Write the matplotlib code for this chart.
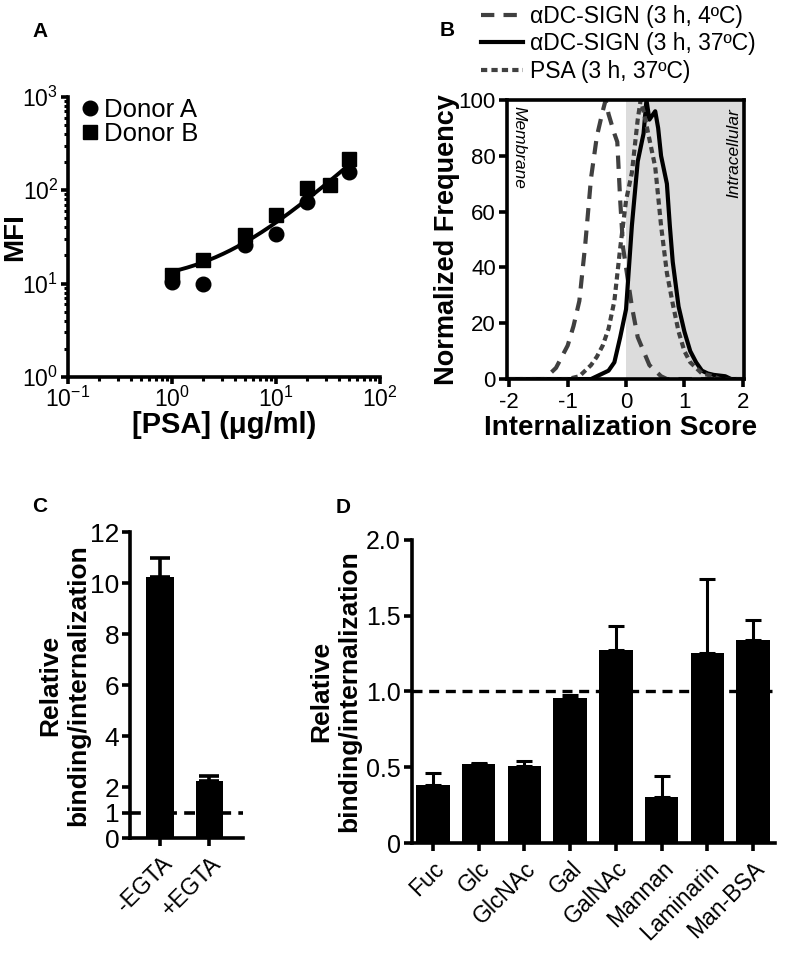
import numpy as np
import matplotlib
matplotlib.use("Agg")
import matplotlib.pyplot as plt
from matplotlib.ticker import LogLocator, NullFormatter

plt.rcParams['font.family'] = ['Liberation Sans', 'DejaVu Sans']
plt.rcParams['mathtext.fontset'] = 'custom'
plt.rcParams['mathtext.rm'] = 'Liberation Sans'
plt.rcParams['mathtext.default'] = 'regular'

# Panel A data
psa_a = [1, 2, 5, 10, 20, 50]
mfi_a = [10.5, 10, 26, 34, 75, 158]
psa_b = [1, 2, 5, 10, 20, 33, 50]
mfi_b = [12.5, 18, 33, 54, 106, 113, 215]

# Panel B data (histograms)
x_4c = [-2.0, -1.4, -1.3, -1.2, -1.1, -1.0, -0.9, -0.8, -0.7, -0.6, -0.5, -0.4, -0.35,
        -0.3, -0.2, -0.15, -0.1, -0.05, 0.0, 0.1, 0.2, 0.3, 0.4, 0.5, 0.6, 0.7, 2.0]
y_4c = [0, 0, 2, 4, 8, 12, 19, 28, 48, 72, 87, 96, 100,
        95, 88, 85, 64, 47, 40, 26, 15, 10, 5, 3, 1, 0, 0]
x_37c = [-2.0, -0.6, -0.5, -0.4, -0.3, -0.2, -0.1, 0.0, 0.05, 0.1, 0.2, 0.3, 0.35, 0.4,
         0.5, 0.55, 0.6, 0.7, 0.75, 0.8, 0.9, 1.0, 1.1, 1.2, 1.3, 1.4, 1.5, 1.7, 1.8, 2.0]
y_37c = [0, 0, 1, 2, 3, 6, 15, 25, 40, 55, 78, 88, 100, 93,
         96, 90, 80, 70, 55, 42, 26, 17, 10, 6, 3, 2, 1.5, 1, 0, 0]
x_psa = [-2.0, -1.0, -0.8, -0.7, -0.6, -0.5, -0.4, -0.3, -0.2, -0.1, 0.0, 0.1, 0.2, 0.25,
         0.3, 0.4, 0.5, 0.6, 0.7, 0.8, 0.9, 1.0, 1.1, 1.2, 1.3, 1.4, 1.5, 1.6, 2.0]
y_psa = [0, 0, 1, 3, 5, 8, 12, 18, 28, 47, 64, 74, 93, 100,
         96, 86, 76, 55, 38, 27, 17, 10, 6, 4, 2, 1.5, 1, 0, 0]

# Panel C data
egta_labels = ['-EGTA', '+EGTA']
egta_vals = [10.25, 2.25]
egta_err = [0.75, 0.2]

# Panel D data
sugar_labels = ['Fuc', 'Glc', 'GlcNAc', 'Gal', 'GalNAc', 'Mannan', 'Laminarin', 'Man-BSA']
sugar_vals = [0.385, 0.524, 0.507, 0.954, 1.277, 0.304, 1.255, 1.343]
sugar_err = [0.075, 0.006, 0.033, 0.022, 0.153, 0.136, 0.485, 0.127]

fig = plt.figure(figsize=(7.86, 9.56), dpi=100)
SPW = 2.6

def style_axes(ax, box=False):
    for s in ['left', 'bottom', 'top', 'right']:
        ax.spines[s].set_linewidth(SPW)
    if not box:
        ax.spines['top'].set_visible(False)
        ax.spines['right'].set_visible(False)
    ax.tick_params(width=SPW, length=6, direction='out', pad=2)

# ---------- A ----------
axA = fig.add_axes([0.0865, 0.6057, 0.397, 0.293])
axA.set_xscale('log')
axA.set_yscale('log')
axA.set_xlim(0.1, 100)
axA.set_ylim(1, 1000)
axA.plot(psa_a, mfi_a, 'o', color='black', markersize=10.5, label='Donor A', clip_on=False)
axA.plot(psa_b, mfi_b, 's', color='black', markersize=10, label='Donor B', clip_on=False)
xall = np.array(psa_a + psa_b, dtype=float)
yall = np.array(mfi_a + mfi_b, dtype=float)
coef = np.polyfit(xall, yall, 1)
xf = np.linspace(0.9, 50, 200)
axA.plot(xf, np.polyval(coef, xf), '-', color='black', linewidth=2.8)
style_axes(axA)
axA.xaxis.set_minor_locator(LogLocator(base=10, subs=np.arange(2, 10)))
axA.yaxis.set_minor_locator(LogLocator(base=10, subs=np.arange(2, 10)))
axA.xaxis.set_minor_formatter(NullFormatter())
axA.yaxis.set_minor_formatter(NullFormatter())
axA.tick_params(which='minor', width=2.2, length=3)
axA.tick_params(which='major', labelsize=16.5, length=5)
axA.set_ylabel('MFI', fontsize=20, fontweight='bold')
axA.yaxis.set_label_coords(-0.128, 0.5)
axA.set_xlabel('[PSA] (μg/ml)', fontsize=21, fontweight='bold')
axA.xaxis.set_label_coords(0.5, -0.122)
axA.legend(loc='upper left', bbox_to_anchor=(0.029, 0.995), frameon=False, fontsize=18.5,
           handletextpad=0.05, borderaxespad=0, labelspacing=0.0, handlelength=1.0, borderpad=0)
fig.text(0.0505, 0.967, 'A', fontsize=15, fontweight='bold', ha='center', va='center')

# ---------- B ----------
axB = fig.add_axes([0.645, 0.6035, 0.3015, 0.2918])
axB.set_xlim(-2.04, 2.02)
axB.set_ylim(0, 100)
axB.axvspan(0, 2.02, color='#dcdcdc', zorder=0, linewidth=0)
gray = '#404040'
l1, = axB.plot(x_4c, y_4c, color=gray, linewidth=3, dashes=(3.2, 2.2), label='αDC-SIGN (3 h, 4ºC)')
l2, = axB.plot(x_37c, y_37c, color='black', linewidth=3, label='αDC-SIGN (3 h, 37ºC)')
l3, = axB.plot(x_psa, y_psa, color=gray, linewidth=3, dashes=(1.5, 1.0), label='PSA (3 h, 37ºC)')
style_axes(axB, box=True)
axB.set_xticks([-2, -1, 0, 1, 2])
axB.set_xticklabels(['-2', '-1', '0', '1', '2'])
axB.set_yticks([0, 20, 40, 60, 80, 100])
axB.tick_params(labelsize=16, length=6)
axB.tick_params(axis='x', pad=3)
axB.set_ylabel('Normalized Frequency', fontsize=19.5, fontweight='bold')
axB.yaxis.set_label_coords(-0.198, 0.5)
axB.set_xlabel('Internalization Score', fontsize=20, fontweight='bold')
axB.xaxis.set_label_coords(0.48, -0.128)
axB.text(-1.97, 98, 'Membrane', rotation=270, style='italic', fontsize=12.5, ha='left', va='top')
axB.text(1.97, 97, 'Intracellular', rotation=90, style='italic', fontsize=12.5, ha='right', va='top')
fig.legend(handles=[l1, l2, l3], loc='upper left', bbox_to_anchor=(0.591, 1.012), frameon=False,
           fontsize=16.5, handlelength=1.87, handletextpad=0.3, labelspacing=0.2, borderpad=0.2)
fig.text(0.569, 0.968, 'B', fontsize=15, fontweight='bold', ha='center', va='center')

# ---------- C ----------
axC = fig.add_axes([0.166, 0.1234, 0.143, 0.320])
xc = np.arange(len(egta_labels))
axC.bar(xc, egta_vals, width=0.55, color='black', zorder=2)
axC.errorbar(xc, egta_vals, yerr=[np.zeros(len(xc)), egta_err], fmt='none', ecolor='black',
             elinewidth=2.6, capsize=7, capthick=2.6, zorder=2)
axC.axhline(1, color='black', linestyle=(0, (3, 2)), linewidth=2.6, zorder=3)
axC.set_xlim(-0.6, 1.68)
axC.set_ylim(0, 12)
axC.set_yticks([0, 1, 2, 4, 6, 8, 10, 12])
axC.set_xticks(xc)
axC.set_xticklabels(egta_labels, rotation=45, ha='right', rotation_mode='anchor')
style_axes(axC)
axC.tick_params(axis='y', labelsize=19)
axC.tick_params(axis='x', labelsize=16.5, pad=4)
axC.set_ylabel('Relative\nbinding/internalization', fontsize=19, fontweight='bold')
axC.yaxis.set_label_coords(-0.36, 0.5)
fig.text(0.0505, 0.470, 'C', fontsize=15, fontweight='bold', ha='center', va='center')

# ---------- D ----------
axD = fig.add_axes([0.524, 0.1182, 0.462, 0.317])
xd = np.arange(len(sugar_labels))
axD.bar(xd, sugar_vals, width=0.73, color='black', zorder=2)
axD.errorbar(xd, sugar_vals, yerr=[np.zeros(len(xd)), sugar_err], fmt='none', ecolor='black',
             elinewidth=2.2, capsize=6, capthick=2.2, zorder=2)
axD.axhline(1, color='black', linestyle=(0, (3, 2)), linewidth=2.4, zorder=3)
axD.set_xlim(-0.46, 7.48)
axD.set_ylim(0, 2.0)
axD.set_yticks([0, 0.5, 1.0, 1.5, 2.0])
axD.set_yticklabels(['0', '0.5', '1.0', '1.5', '2.0'])
axD.set_xticks(xd)
axD.set_xticklabels(sugar_labels, rotation=45, ha='right', rotation_mode='anchor')
style_axes(axD)
axD.tick_params(axis='y', labelsize=18)
axD.tick_params(axis='x', labelsize=16.5, pad=4)
axD.set_ylabel('Relative\nbinding/internalization', fontsize=19, fontweight='bold')
axD.yaxis.set_label_coords(-0.139, 0.5)
fig.text(0.437, 0.469, 'D', fontsize=15, fontweight='bold', ha='center', va='center')

fig.savefig('out.png', dpi=100)
